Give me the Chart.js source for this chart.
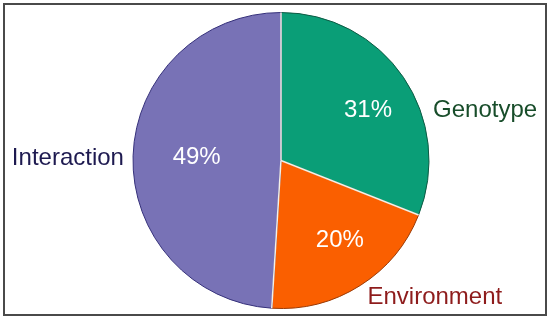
<!DOCTYPE html>
<html>
<head>
<meta charset="utf-8">
<script src="https://cdn.jsdelivr.net/npm/chart.js@4"></script>
<style>
  html, body { margin: 0; padding: 0; background: #ffffff; }
  #wrap { position: relative; width: 550px; height: 320px; }
  #frame { position: absolute; left: 3px; top: 3px; width: 540px; height: 309px; border: 2px solid #4a4a4a; pointer-events: none; }
  canvas { position: absolute; left: 0; top: 0; }
</style>
</head>
<body>
<div id="wrap">
  <canvas id="c" width="550" height="320"></canvas>
  <div id="frame"></div>
</div>
<script>
const categories = ['Genotype', 'Environment', 'Interaction'];
const shares = [31, 20, 49];
const fillColors = ['#0a9e77', '#fa5f00', '#7872b6'];
const edgeColors = ['#0d5a43', '#9a3a05', '#35307a'];
const nameColors = ['#184d2a', '#8e1c1c', '#1e1a50'];

const FONT = '"Liberation Sans", Arial, sans-serif';

const labelPlugin = {
  id: 'sliceLabels',
  afterDatasetsDraw(chart, args, opts) {
    const ctx = chart.ctx;
    const meta = chart.getDatasetMeta(0);
    const data = chart.data.datasets[0].data;
    const total = data.reduce((a, b) => a + b, 0);
    ctx.save();
    // white separators between slices
    meta.data.forEach((arc) => {
      const { x, y, startAngle, outerRadius } = arc.getProps(['x', 'y', 'startAngle', 'outerRadius'], true);
      ctx.beginPath();
      ctx.moveTo(x, y);
      ctx.lineTo(x + Math.cos(startAngle) * outerRadius, y + Math.sin(startAngle) * outerRadius);
      ctx.strokeStyle = '#f3f0e8';
      ctx.lineWidth = 1.5;
      ctx.stroke();
    });
    ctx.textAlign = 'center';
    ctx.textBaseline = 'middle';
    meta.data.forEach((arc, i) => {
      const { x, y, startAngle, endAngle, outerRadius } = arc.getProps(['x', 'y', 'startAngle', 'endAngle', 'outerRadius'], true);
      const mid = (startAngle + endAngle) / 2;
      const pct = Math.round(data[i] / total * 100) + '%';
      const rf = opts.innerFactor[i];
      const da = opts.innerShift[i] * Math.PI / 180;
      ctx.font = '24px ' + FONT;
      ctx.fillStyle = '#ffffff';
      ctx.fillText(pct, x + Math.cos(mid + da) * outerRadius * rf, y + Math.sin(mid + da) * outerRadius * rf);
      const oa = (opts.outerAngle[i] - 90) * Math.PI / 180;
      const of = opts.outerFactor[i];
      ctx.fillStyle = nameColors[i];
      ctx.fillText(chart.data.labels[i], x + Math.cos(oa) * outerRadius * of, y + Math.sin(oa) * outerRadius * of);
    });
    ctx.restore();
  }
};

new Chart(document.getElementById('c'), {
  type: 'pie',
  data: {
    labels: categories,
    datasets: [{
      data: shares,
      backgroundColor: fillColors,
      borderColor: edgeColors,
      borderWidth: 1
    }]
  },
  options: {
    responsive: false,
    animation: false,
    events: [],
    layout: { padding: { left: 132, right: 120, top: 12, bottom: 11 } },
    plugins: {
      legend: { display: false },
      tooltip: { enabled: false },
      sliceLabels: {
        innerFactor: [0.68, 0.67, 0.57],
        innerShift: [4, -4, 0],
        outerAngle: [76.2, 131.6, 270.7],
        outerFactor: [1.42, 1.39, 1.44]
      }
    }
  },
  plugins: [labelPlugin]
});
</script>
</body>
</html>
